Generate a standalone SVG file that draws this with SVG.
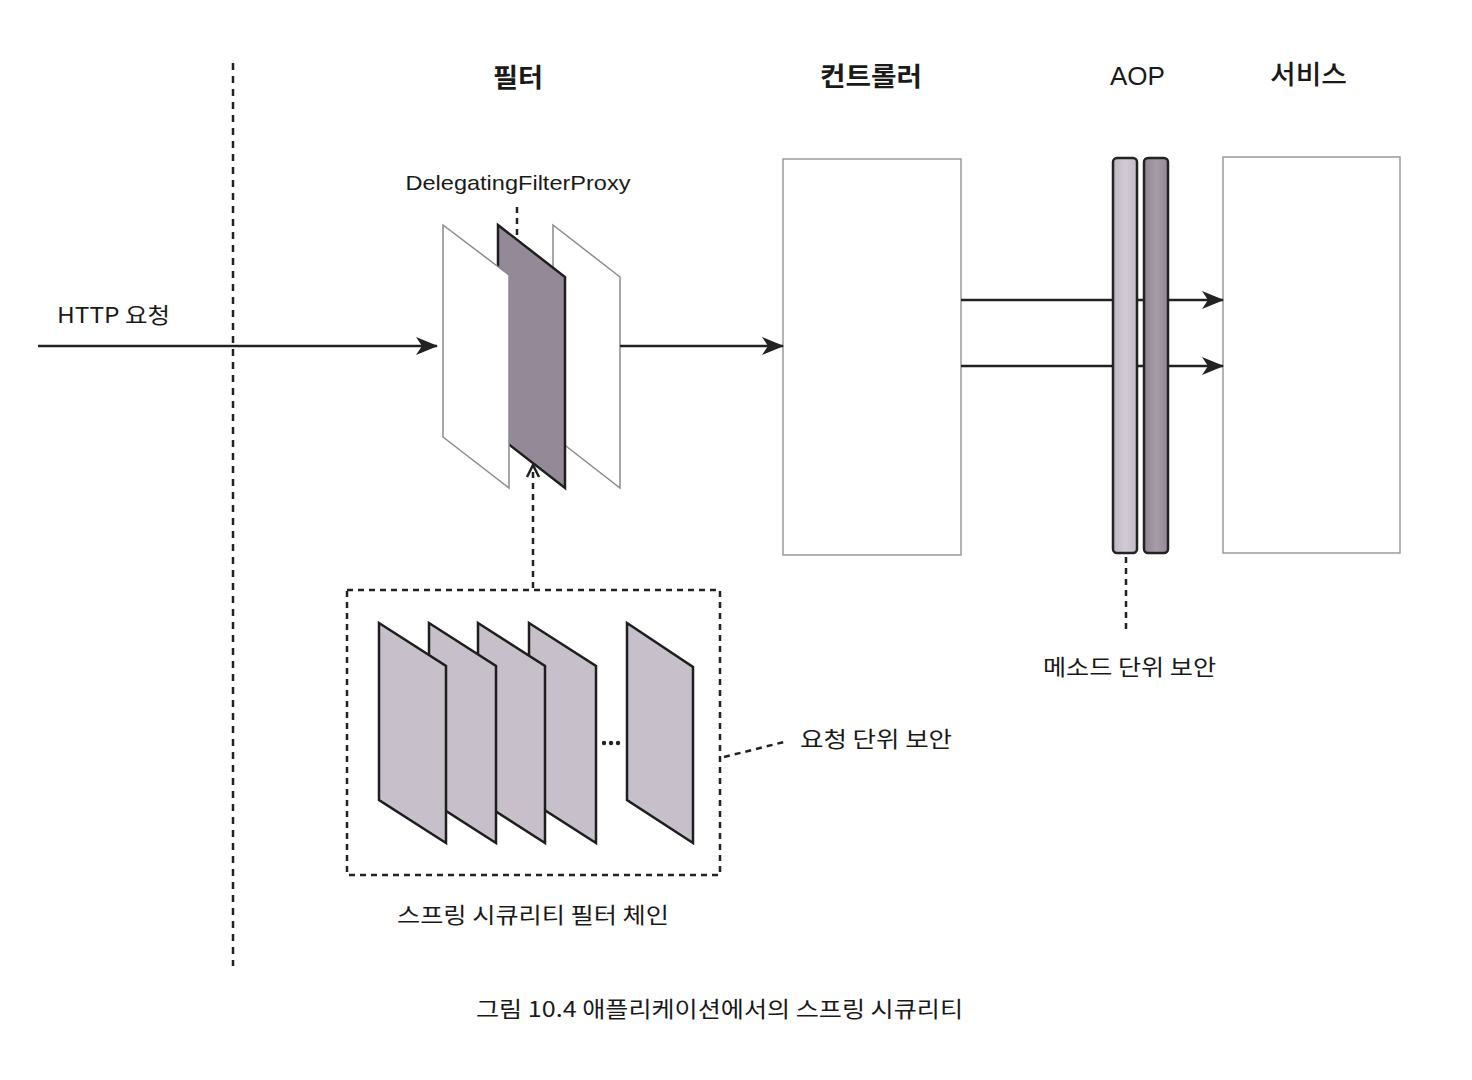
<svg xmlns="http://www.w3.org/2000/svg" width="1472" height="1080" viewBox="0 0 1472 1080">
<defs>
<marker id="ah" viewBox="0 0 22 18" refX="21" refY="9" markerWidth="22" markerHeight="18" markerUnits="userSpaceOnUse" orient="auto">
<path d="M0,0 L22,9 L0,18 L6,9 z" fill="#222"/>
</marker>
<linearGradient id="barA" x1="0" y1="0" x2="1" y2="0">
<stop offset="0" stop-color="#bdb4c0"/><stop offset="0.5" stop-color="#d2cbd4"/><stop offset="1" stop-color="#c2bac4"/>
</linearGradient>
<linearGradient id="barB" x1="0" y1="0" x2="1" y2="0">
<stop offset="0" stop-color="#8f8493"/><stop offset="0.5" stop-color="#a69ca8"/><stop offset="1" stop-color="#938896"/>
</linearGradient>
</defs>
<style>
.t{font-family:"Noto Sans CJK KR","Liberation Sans",sans-serif;fill:#1a1a1a}
.h{font-size:26px;font-weight:bold}
.n{font-size:22px}
.lat{font-family:"Liberation Sans","Noto Sans CJK KR",sans-serif;fill:#1a1a1a}
.conn{stroke:#222;stroke-width:2.5;fill:none}
.dash{stroke:#222;stroke-width:2.5;fill:none;stroke-dasharray:6 5}
.white{fill:#fff;stroke:#8a8a8a;stroke-width:1.5}
.dark{fill:#938997;stroke:#1e1e1e;stroke-width:2.5}
.chain{fill:#c7bfca;stroke:#1e1e1e;stroke-width:2.5}
.box{fill:#fff;stroke:#9a9a9a;stroke-width:1.5}
</style>
<rect width="1472" height="1080" fill="#fff"/>

<g id="divider">
<line x1="233" y1="63" x2="233" y2="966" stroke="#222" stroke-width="2.5" stroke-dasharray="7 6"/>
</g>

<g id="headings">
<text class="t h" x="493" y="87" textLength="50" lengthAdjust="spacingAndGlyphs">필터</text>
<text class="t h" x="820" y="86" textLength="102" lengthAdjust="spacingAndGlyphs">컨트롤러</text>
<text class="lat" x="1110" y="85" font-size="26" textLength="55" lengthAdjust="spacingAndGlyphs">AOP</text>
<text class="t h" x="1270" y="84" textLength="77" lengthAdjust="spacingAndGlyphs" style="font-weight:500">서비스</text>
</g>

<g id="filter">
<text class="lat" x="518" y="190" text-anchor="middle" font-size="21" textLength="225" lengthAdjust="spacingAndGlyphs">DelegatingFilterProxy</text>
<polygon class="white" points="553,225 620,277 620,488 553,436"/>
<polygon class="dark" points="498,225 565,277 565,488 498,436"/>
<polygon class="white" points="443,225 509,275 509,488 443,437"/>
</g>

<g id="chain">
<rect x="347" y="590" width="373" height="285" class="dash"/>
<polygon class="chain" points="529,623 596,666 596,843 529,800"/>
<polygon class="chain" points="478,623 545,666 545,843 478,800"/>
<polygon class="chain" points="429,623 496,666 496,843 429,800"/>
<polygon class="chain" points="379,623 446,666 446,843 379,800"/>
<polygon class="chain" points="627,623 693,667 693,843 627,800"/>
<g fill="#222"><circle cx="604" cy="743" r="2.2"/><circle cx="611" cy="743" r="2.2"/><circle cx="618" cy="743" r="2.2"/></g>
<text class="t n" x="533" y="923" text-anchor="middle" textLength="272" lengthAdjust="spacingAndGlyphs">스프링 시큐리티 필터 체인</text>
</g>

<g id="controller">
<rect class="box" x="783" y="159" width="178" height="396"/>
</g>

<g id="service">
<rect class="box" x="1223" y="157" width="177" height="396"/>
</g>

<g id="connectors">
<line class="conn" x1="38" y1="346" x2="437" y2="346" marker-end="url(#ah)"/>
<line class="conn" x1="620" y1="346" x2="783" y2="346" marker-end="url(#ah)"/>
<line class="conn" x1="961" y1="300" x2="1223" y2="300" marker-end="url(#ah)"/>
<line class="conn" x1="961" y1="366" x2="1223" y2="366" marker-end="url(#ah)"/>
<line class="dash" x1="517" y1="207" x2="517" y2="240" stroke-dasharray="7 5"/>
<line class="dash" x1="533" y1="588" x2="533" y2="468"/>
<polyline class="conn" points="527,477 533,465 539,477" stroke-width="2"/>
<line class="dash" x1="1126" y1="557" x2="1126" y2="632"/>
<line class="dash" x1="724" y1="757" x2="788" y2="741" stroke-dasharray="5 5"/>
</g>

<g id="aop">
<rect x="1113" y="158" width="24" height="395" rx="4" fill="url(#barA)" stroke="#222" stroke-width="2.5"/>
<rect x="1144" y="158" width="24" height="395" rx="4" fill="url(#barB)" stroke="#222" stroke-width="2.5"/>
</g>

<g id="labels">
<text class="t n" x="57" y="323" textLength="113" lengthAdjust="spacingAndGlyphs">HTTP 요청</text>
<text class="t n" x="800" y="747" textLength="152" lengthAdjust="spacingAndGlyphs">요청 단위 보안</text>
<text class="t n" x="1043" y="675" textLength="173" lengthAdjust="spacingAndGlyphs">메소드 단위 보안</text>
</g>

<g id="caption">
<text class="t n" x="476" y="1017" textLength="487" lengthAdjust="spacingAndGlyphs">그림 10.4 애플리케이션에서의 스프링 시큐리티</text>
</g>
</svg>
